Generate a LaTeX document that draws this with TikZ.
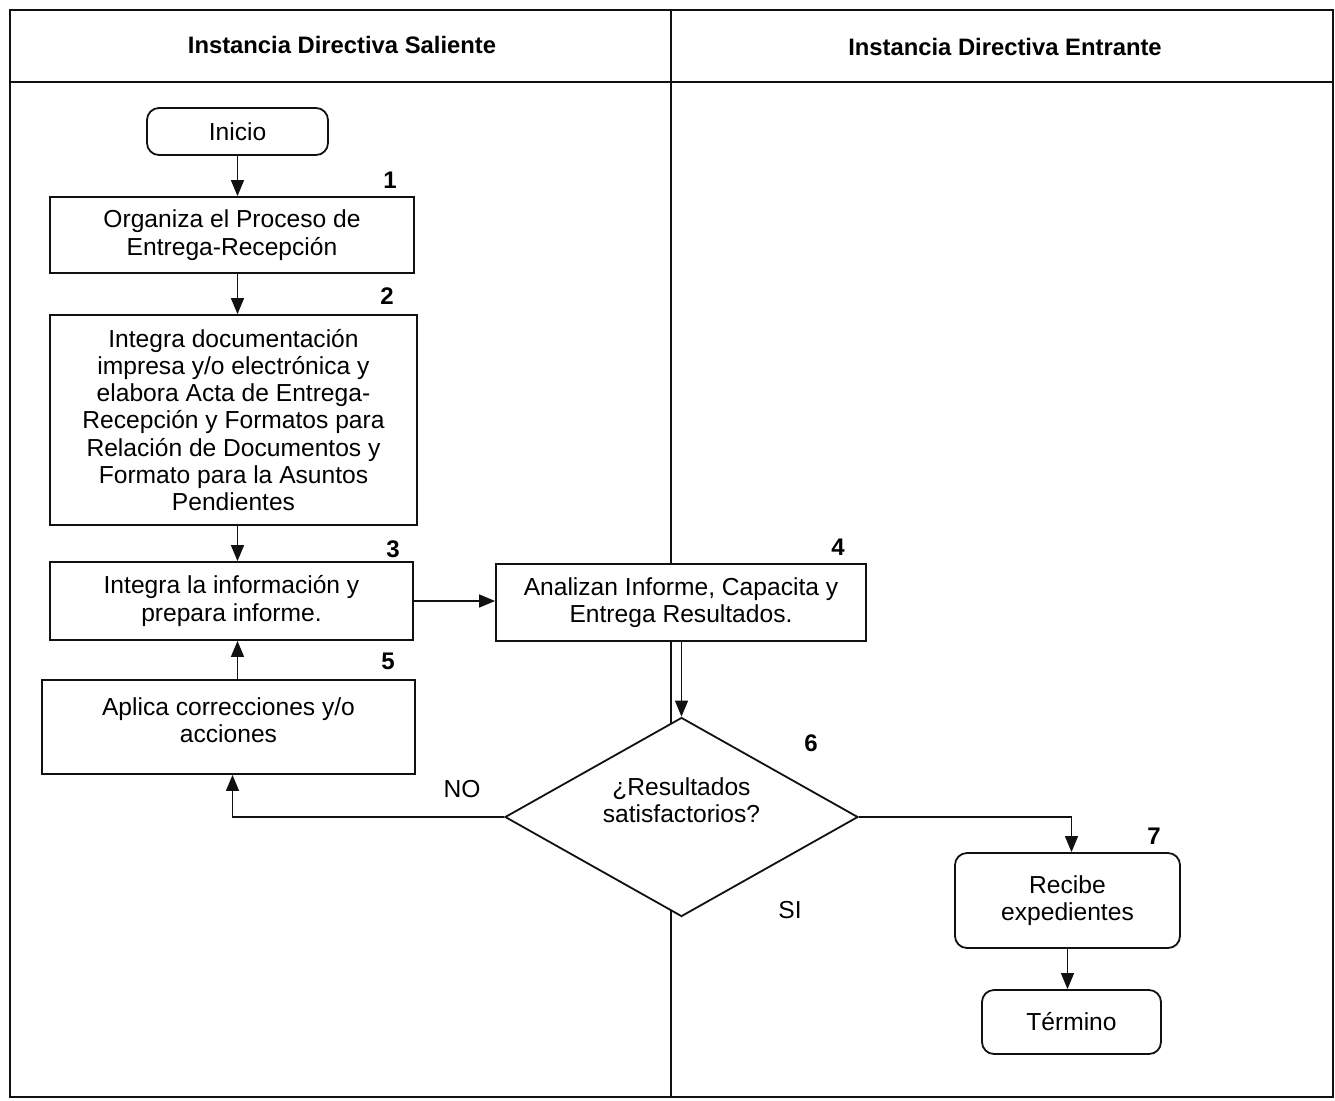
\documentclass[tikz,border=0pt]{standalone}
\usepackage{fontspec}
\setmainfont{Liberation Sans}
\usepackage{tikz}
\usetikzlibrary{positioning,arrows.meta,shapes.geometric,calc}
\definecolor{ink}{HTML}{111111}
\tikzset{
  lane/.style={draw=ink, line width=1pt},
  paso/.style={draw=ink, fill=white, line width=0.9pt, align=center,
               font=\fontsize{12.3}{13.65}\selectfont, inner sep=2pt},
  term/.style={paso, rounded corners=6pt},
  decis/.style={diamond, draw=ink, fill=white, line width=0.9pt, align=center,
                font=\fontsize{12.3}{13.65}\selectfont, inner sep=0pt,
                shape aspect=1.77, minimum width=176.5pt, minimum height=99.5pt},
  num/.style={font=\fontsize{12}{14}\selectfont\bfseries},
  head/.style={font=\fontsize{11.9}{14}\selectfont\bfseries},
  lbl/.style={font=\fontsize{12.3}{14}\selectfont},
  ar/.style={-{Triangle[length=8pt,width=6.5pt]}, line width=0.7pt, color=ink},
}
\begin{document}
\begin{tikzpicture}[x=0.5pt, y=-0.5pt]
\useasboundingbox (0,0) rectangle (1335,1100);

% carriles
\draw[lane] (10,10) rectangle (1333,1097);
\draw[lane] (10,82) -- (1333,82);
\draw[lane, line width=0.6pt] (671,10) -- (671,1097);
\node[head] (saliente) at (342,45) {Instancia Directiva Saliente};
\node[head] (entrante) at (1005,47) {Instancia Directiva Entrante};

% pasos
\node[term, minimum width=90.5pt, minimum height=23.5pt] (inicio) at (237.5,131.5) {Inicio};
\node[paso, minimum width=182pt, minimum height=38pt] (organiza) at (232,235)
  {Organiza el Proceso de\\Entrega-Recepción};
\node[paso, minimum width=183.5pt, minimum height=105pt] (integra) at (233.5,420)
  {Integra documentación\\impresa y/o electrónica y\\elabora Acta de Entrega-\\Recepción y Formatos para\\Relación de Documentos y\\Formato para la Asuntos\\Pendientes};
\node[paso, minimum width=181.5pt, minimum height=39pt] (informe) at (231.5,601)
  {Integra la información y\\prepara informe.};
\node[paso, minimum width=185pt, minimum height=38.5pt] (analiza) at (681,602.5)
  {Analizan Informe, Capacita y\\Entrega Resultados.};
\node[paso, minimum width=186.5pt, minimum height=47pt] (corrige) at (228.5,727)
  {Aplica correcciones y/o\\acciones\\[-6.6pt]};
\node[decis] (decide) at (681.5,817) {¿Resultados\\satisfactorios?\\[3.4pt]};
\node[term, minimum width=112.5pt, minimum height=47.5pt] (recibe) at (1067.5,900.5)
  {Recibe\\expedientes};
\node[term, minimum width=89.5pt, minimum height=32pt] (termino) at (1071.5,1022) {Término};

% numeros
\node[num] (n1) at (390,180) {1};
\node[num] (n2) at (387,296) {2};
\node[num] (n3) at (393,549) {3};
\node[num] (n4) at (838,547) {4};
\node[num] (n5) at (388,661) {5};
\node[num] (n6) at (811,743) {6};
\node[num] (n7) at (1154,836) {7};

% flechas
\draw[ar] (inicio.south) -- (inicio.south |- organiza.north);
\draw[ar] (inicio.south |- organiza.south) -- (inicio.south |- integra.north);
\draw[ar] (inicio.south |- integra.south) -- (inicio.south |- informe.north);
\draw[ar] (informe.east) -- (analiza.west |- informe.east);
\draw[ar] (analiza.south -| decide.north) -- (decide.north);
\draw[ar] (inicio.south |- corrige.north) -- (inicio.south |- informe.south);
\draw[ar] (decide.west) -| ([xshift=2pt]corrige.south);
\draw[ar] (decide.east) -| ([xshift=2pt]recibe.north);
\draw[ar] (recibe.south) -- (recibe.south |- termino.north);
\node[lbl] (no) at (462,789) {NO};
\node[lbl] (si) at (790,910) {SI};
\end{tikzpicture}
\end{document}
